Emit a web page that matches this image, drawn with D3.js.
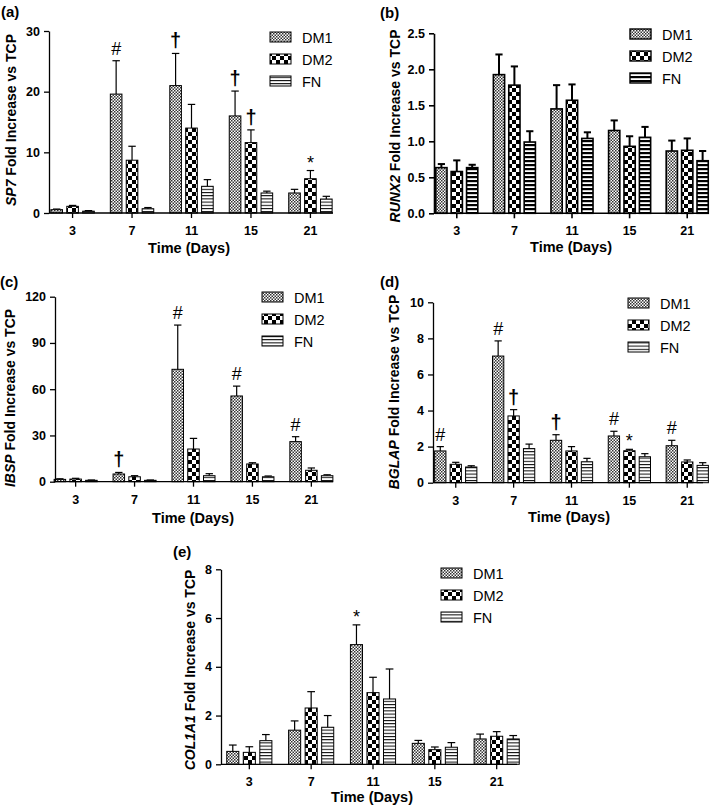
<!DOCTYPE html>
<html>
<head>
<meta charset="utf-8">
<script src="https://cdn.jsdelivr.net/npm/d3@7"></script>
<style>
  html, body { margin: 0; padding: 0; background: #fff; }
  svg { display: block; font-family: "Liberation Sans", Arial, Helvetica, sans-serif; }
</style>
</head>
<body>
<svg id="chart" width="710" height="806"></svg>
<script>
// ---------------- DATA ----------------
const days = ["3", "7", "11", "15", "21"];
const series = ["DM1", "DM2", "FN"];

// (a) SP7
const sp7DM1 = [0.55, 19.6, 21.0, 16.0, 3.3];
const sp7DM2 = [1.1, 8.7, 14.0, 11.6, 5.65];
const sp7FN  = [0.3, 0.7, 4.4, 3.3, 2.3];
const sp7DM1Err = [0.1, 5.5, 5.3, 4.1, 0.6];
const sp7DM2Err = [0.15, 2.3, 3.9, 2.1, 1.35];
const sp7FNErr  = [0.1, 0.2, 1.1, 0.3, 0.45];
const sp7Ticks = [0, 10, 20, 30];
const sp7Marks = [["7", "DM1", "#"], ["11", "DM1", "†"], ["15", "DM1", "†"], ["15", "DM2", "†"], ["21", "DM2", "*"]];

// (b) RUNX2
const runx2DM1 = [0.634, 1.926, 1.45, 1.15, 0.865];
const runx2DM2 = [0.58, 1.78, 1.57, 0.93, 0.875];
const runx2FN  = [0.634, 0.99, 1.04, 1.055, 0.73];
const runx2DM1Err = [0.05, 0.28, 0.33, 0.14, 0.145];
const runx2DM2Err = [0.155, 0.26, 0.22, 0.14, 0.165];
const runx2FNErr  = [0.04, 0.15, 0.085, 0.145, 0.135];
const runx2Ticks = [0, 0.5, 1.0, 1.5, 2.0, 2.5];
const runx2Marks = [];

// (c) IBSP
const ibspDM1 = [1.5, 5.0, 72.9, 55.6, 26.0];
const ibspDM2 = [1.7, 3.2, 21.2, 11.5, 7.4];
const ibspFN  = [0.9, 0.9, 3.9, 3.2, 3.9];
const ibspDM1Err = [0.4, 1.0, 28.7, 6.4, 3.2];
const ibspDM2Err = [0.5, 0.7, 6.9, 0.8, 1.5];
const ibspFNErr  = [0.2, 0.2, 1.3, 0.5, 0.6];
const ibspTicks = [0, 30, 60, 90, 120];
const ibspMarks = [["7", "DM1", "†"], ["11", "DM1", "#"], ["15", "DM1", "#"], ["21", "DM1", "#"]];

// (d) BGLAP
const bglapDM1 = [1.76, 7.02, 2.35, 2.59, 2.05];
const bglapDM2 = [1.02, 3.7, 1.76, 1.77, 1.15];
const bglapFN  = [0.87, 1.89, 1.16, 1.44, 0.96];
const bglapDM1Err = [0.24, 0.84, 0.31, 0.26, 0.3];
const bglapDM2Err = [0.11, 0.35, 0.24, 0.08, 0.11];
const bglapFNErr  = [0.07, 0.25, 0.19, 0.17, 0.15];
const bglapTicks = [0, 2, 4, 6, 8, 10];
const bglapMarks = [["3", "DM1", "#"], ["7", "DM1", "#"], ["7", "DM2", "†"], ["11", "DM1", "†"], ["15", "DM1", "#"], ["15", "DM2", "*"], ["21", "DM1", "#"]];

// (e) COL1A1
const col1a1DM1 = [0.53, 1.4, 4.91, 0.86, 1.04];
const col1a1DM2 = [0.49, 2.31, 2.94, 0.6, 1.15];
const col1a1FN  = [0.97, 1.52, 2.68, 0.7, 1.04];
const col1a1DM1Err = [0.26, 0.38, 0.81, 0.12, 0.2];
const col1a1DM2Err = [0.23, 0.67, 0.63, 0.11, 0.19];
const col1a1FNErr  = [0.25, 0.48, 1.23, 0.19, 0.14];
const col1a1Ticks = [0, 2, 4, 6, 8];
const col1a1Marks = [["11", "DM1", "*"]];

// ---------------- LAYOUT ----------------
const FONT = '"Liberation Sans", Arial, Helvetica, sans-serif';
const svg = d3.select("#chart");
const defs = svg.append("defs");

function makePatterns(id, thick) {
  // DM1 fine checker
  const p1 = defs.append("pattern").attr("id", id + "-DM1").attr("patternUnits", "userSpaceOnUse")
    .attr("width", 3).attr("height", 3);
  p1.append("rect").attr("width", 3).attr("height", 3).attr("fill", "#fff");
  p1.append("rect").attr("width", 1.5).attr("height", 1.5).attr("fill", "#333");
  p1.append("rect").attr("x", 1.5).attr("y", 1.5).attr("width", 1.5).attr("height", 1.5).attr("fill", "#333");
  // DM2 coarse checker
  const p2 = defs.append("pattern").attr("id", id + "-DM2").attr("patternUnits", "userSpaceOnUse")
    .attr("width", 8).attr("height", 8);
  p2.append("rect").attr("width", 8).attr("height", 8).attr("fill", "#fff");
  p2.append("rect").attr("width", 4).attr("height", 4).attr("fill", "#000");
  p2.append("rect").attr("x", 4).attr("y", 4).attr("width", 4).attr("height", 4).attr("fill", "#000");
  // FN horizontal stripes
  const h = thick ? 4 : 3.2;
  const p3 = defs.append("pattern").attr("id", id + "-FN").attr("patternUnits", "userSpaceOnUse")
    .attr("width", 4).attr("height", h);
  p3.append("rect").attr("width", 4).attr("height", h).attr("fill", "#fff");
  p3.append("rect").attr("y", 0).attr("width", 4).attr("height", thick ? 2.2 : 1).attr("fill", "#000");
}

function panel(cfg) {
  const g = svg.append("g");
  const y = d3.scaleLinear().domain([0, cfg.ticks[cfg.ticks.length - 1]]).range([cfg.bottom, cfg.top]);
  const step = (cfg.cLast - cfg.cFirst) / (days.length - 1);
  const x0 = d3.scaleBand().domain(days).range([cfg.cFirst - step / 2, cfg.cLast + step / 2]).paddingInner(0.27);
  const x1 = d3.scaleBand().domain(series).range([0, x0.bandwidth()]).paddingInner(0.27);
  const sw = cfg.thick ? 1.6 : 1;
  const ew = cfg.thick ? 2 : 1.2;

  const rows = [];
  days.forEach((d, i) => {
    series.forEach((s, j) => {
      rows.push({ day: d, s: s, v: cfg.vals[j][i], e: cfg.errs[j][i] });
    });
  });

  // error bars (drawn first, bars on top cover the lower part)
  const eg = g.append("g");
  rows.forEach(r => {
    const cx = x0(r.day) + x1(r.s) + x1.bandwidth() / 2;
    const cap = x1.bandwidth() * 0.32;
    eg.append("line").attr("x1", cx).attr("x2", cx).attr("y1", y(r.v)).attr("y2", y(r.v + r.e))
      .attr("stroke", "#000").attr("stroke-width", ew);
    eg.append("line").attr("x1", cx - cap).attr("x2", cx + cap).attr("y1", y(r.v + r.e)).attr("y2", y(r.v + r.e))
      .attr("stroke", "#000").attr("stroke-width", ew);
  });

  g.append("g").selectAll("rect").data(rows).join("rect")
    .attr("x", r => x0(r.day) + x1(r.s))
    .attr("y", r => y(r.v))
    .attr("width", x1.bandwidth())
    .attr("height", r => cfg.bottom - y(r.v))
    .attr("fill", r => `url(#${cfg.id}-${r.s})`)
    .attr("stroke", "#000").attr("stroke-width", sw);

  // axes
  const ya = g.append("g").attr("transform", `translate(${cfg.left},0)`)
    .call(d3.axisLeft(y).tickValues(cfg.ticks).tickFormat(cfg.fmt || d3.format("d")).tickSize(5).tickSizeOuter(0).tickPadding(4));
  ya.select(".domain").attr("stroke-width", cfg.thick ? 1.6 : 1.3);
  ya.selectAll(".tick line").attr("stroke-width", cfg.thick ? 1.6 : 1.3);
  ya.selectAll("text").attr("font-family", FONT).attr("font-weight", "bold").attr("font-size", 12.5).attr("fill", "#000");

  const xa = g.append("g").attr("transform", `translate(0,${cfg.bottom})`)
    .call(d3.axisBottom(x0).tickSize(5).tickSizeOuter(0).tickPadding(8));
  xa.select(".domain").remove();
  xa.selectAll(".tick line").attr("stroke-width", cfg.thick ? 1.6 : 1.3);
  xa.selectAll("text").attr("font-family", FONT).attr("font-weight", "bold").attr("font-size", 12.5).attr("fill", "#000");
  g.append("line").attr("x1", cfg.left).attr("x2", cfg.right).attr("y1", cfg.bottom).attr("y2", cfg.bottom)
    .attr("stroke", "#000").attr("stroke-width", cfg.thick ? 1.6 : 1.3);

  // annotations
  cfg.marks.forEach(m => {
    const i = days.indexOf(m[0]), j = series.indexOf(m[1]);
    const v = cfg.vals[j][i] + cfg.errs[j][i];
    g.append("text")
      .attr("x", x0(m[0]) + x1(m[1]) + x1.bandwidth() / 2)
      .attr("y", y(v) - (m[2] === "*" ? 2 : 6))
      .attr("text-anchor", "middle")
      .attr("font-family", FONT).attr("font-size", m[2] === "†" ? 20 : 18)
      .attr("font-weight", m[2] === "†" ? "bold" : "normal").attr("fill", "#000")
      .text(m[2]);
  });

  // y title
  const yt = g.append("text")
    .attr("transform", `translate(${cfg.ytx},${cfg.yty}) rotate(-90)`)
    .attr("text-anchor", "middle")
    .attr("font-family", FONT).attr("font-weight", "bold").attr("font-size", 14).attr("fill", "#000");
  yt.append("tspan").attr("font-style", "italic").text(cfg.gene);
  yt.append("tspan").text(" Fold Increase vs TCP");

  // x title
  g.append("text").attr("x", cfg.xtx).attr("y", cfg.xty).attr("text-anchor", "middle")
    .attr("font-family", FONT).attr("font-weight", "bold").attr("font-size", 14.5).attr("fill", "#000")
    .text("Time (Days)");

  // panel label
  g.append("text").attr("x", cfg.lx).attr("y", cfg.ly)
    .attr("font-family", FONT).attr("font-weight", "bold").attr("font-size", 15).attr("fill", "#000")
    .text(cfg.label);

  // legend
  series.forEach((s, j) => {
    const ly = cfg.legY + j * 22;
    g.append("rect").attr("x", cfg.legX).attr("y", ly - 5).attr("width", 21).attr("height", 10)
      .attr("fill", `url(#${cfg.id}-${s})`).attr("stroke", "#000").attr("stroke-width", cfg.thick ? 1.4 : 1);
    g.append("text").attr("x", cfg.legX + 32).attr("y", ly + 5.5)
      .attr("font-family", FONT).attr("font-size", 14.5).attr("fill", "#000").text(s);
  });
}

makePatterns("pa", false);
makePatterns("pb", true);
makePatterns("pc", false);
makePatterns("pd", false);
makePatterns("pe", false);

panel({ id: "pa", label: "(a)", lx: 1, ly: 17, gene: "SP7",
  vals: [sp7DM1, sp7DM2, sp7FN], errs: [sp7DM1Err, sp7DM2Err, sp7FNErr], ticks: sp7Ticks, marks: sp7Marks,
  left: 49, right: 333, bottom: 213, top: 31, cFirst: 79, cLast: 304,
  ytx: 16, yty: 120, xtx: 189, xty: 253, legX: 270, legY: 37 });

panel({ id: "pb", label: "(b)", lx: 380, ly: 18, gene: "RUNX2", thick: true, fmt: d3.format(".1f"),
  vals: [runx2DM1, runx2DM2, runx2FN], errs: [runx2DM1Err, runx2DM2Err, runx2FNErr], ticks: runx2Ticks, marks: runx2Marks,
  left: 434, right: 703, bottom: 213.3, top: 33.3, cFirst: 463, cLast: 681,
  ytx: 400, yty: 126, xtx: 571, xty: 252, legX: 630, legY: 34 });

panel({ id: "pc", label: "(c)", lx: 0, ly: 287, gene: "IBSP",
  vals: [ibspDM1, ibspDM2, ibspFN], errs: [ibspDM1Err, ibspDM2Err, ibspFNErr], ticks: ibspTicks, marks: ibspMarks,
  left: 55, right: 333, bottom: 481.7, top: 296.7, cFirst: 82, cLast: 305,
  ytx: 15, yty: 398, xtx: 193, xty: 523, legX: 262, legY: 297 });

panel({ id: "pd", label: "(d)", lx: 380, ly: 287, gene: "BGLAP",
  vals: [bglapDM1, bglapDM2, bglapFN], errs: [bglapDM1Err, bglapDM2Err, bglapFNErr], ticks: bglapTicks, marks: bglapMarks,
  left: 433, right: 703, bottom: 482.7, top: 302.3, cFirst: 462, cLast: 681,
  ytx: 399, yty: 392, xtx: 569, xty: 522, legX: 628, legY: 303 });

panel({ id: "pe", label: "(e)", lx: 173, ly: 557, gene: "COL1A1",
  vals: [col1a1DM1, col1a1DM2, col1a1FN], errs: [col1a1DM1Err, col1a1DM2Err, col1a1FNErr], ticks: col1a1Ticks, marks: col1a1Marks,
  left: 221, right: 517, bottom: 764.3, top: 569.3, cFirst: 256, cLast: 490,
  ytx: 195, yty: 670, xtx: 372, xty: 802, legX: 441, legY: 573 });
</script>
</body>
</html>
